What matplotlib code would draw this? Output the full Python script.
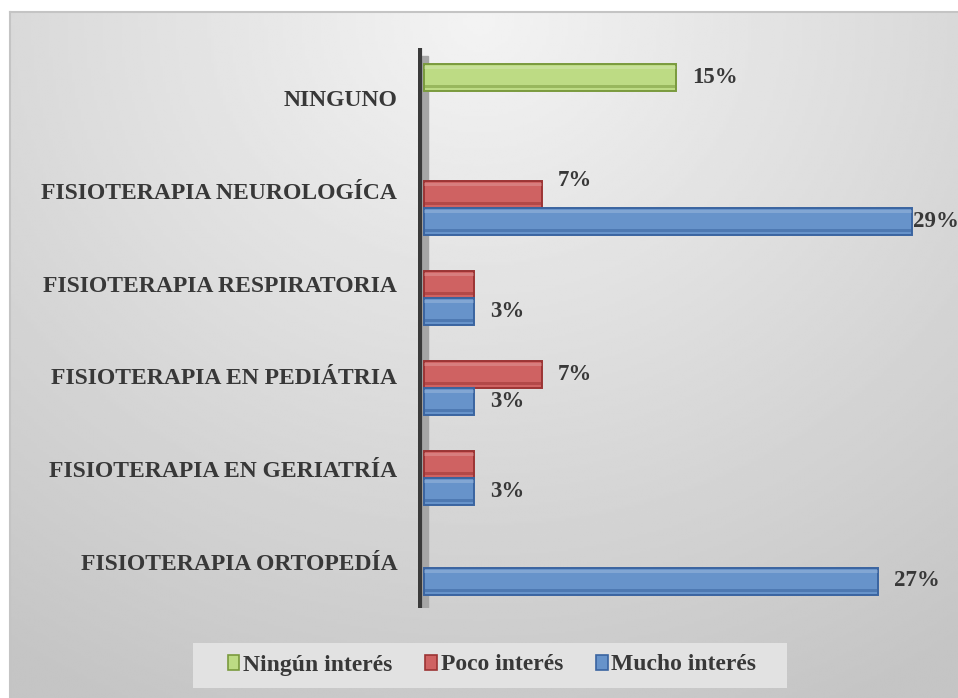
import numpy as np
import matplotlib
matplotlib.use("Agg")
from matplotlib import pyplot as plt
from matplotlib.patches import Patch, Rectangle

categorias = [
    "NINGUNO",
    "FISIOTERAPIA NEUROLOGÍCA",
    "FISIOTERAPIA RESPIRATORIA",
    "FISIOTERAPIA EN PEDIÁTRIA",
    "FISIOTERAPIA EN GERIATRÍA",
    "FISIOTERAPIA ORTOPEDÍA",
]
ningun_interes = [15, 0, 0, 0, 0, 0]
poco_interes = [0, 7, 3, 7, 3, 0]
mucho_interes = [0, 29, 3, 3, 3, 27]
series_nombres = ["Ningún interés", "Poco interés", "Mucho interés"]

colores = ["#bddb84", "#cf6262", "#6793ca"]
bordes = ["#7a9a3e", "#9c3434", "#3a64a0"]
texto = "#383838"
fuente = "Liberation Serif"

W, H = 958, 698
fig = plt.figure(figsize=(W / 100, H / 100), dpi=100)

# fondo con degradado radial
bg = fig.add_axes([10 / W, 0, (W - 10) / W, (H - 12) / H], zorder=-10)
xx, yy = np.meshgrid(np.linspace(10, W, 300), np.linspace(12, H, 300))
r = np.sqrt(((xx - 480) / 800) ** 2 + ((yy - 20) / 720) ** 2)
val = (243 - 44 * np.clip(r, 0, 1.05)) / 255
bg.imshow(val, cmap="gray", vmin=0, vmax=1, aspect="auto",
          extent=[0, 1, 0, 1], interpolation="bilinear")
bg.set_xlim(0, 1)
bg.set_ylim(0, 1)
bg.axis("off")
fig.add_artist(plt.Line2D([10 / W, 1], [1 - 12 / H, 1 - 12 / H], color="#c4c4c4", lw=1.5))
fig.add_artist(plt.Line2D([10 / W, 10 / W], [0, 1 - 12 / H], color="#c4c4c4", lw=1.5))

px = 16.83  # pixeles por punto porcentual
sep = 90.0  # pixeles entre categorias
ax = fig.add_axes([418 / W, 1 - 608 / H, (W - 418) / W, (608 - 48) / H])
ax.set_facecolor("none")
ax.set_xlim(-6 / px, (W - 424) / px)
ax.set_ylim((608 - 104) / sep, (48 - 104) / sep)

# pared del eje
ax.axvspan(-6 / px, 4 / px, ymin=0, ymax=0.985, color="#a6a6a6", zorder=1)
ax.axvline(-4.5 / px, color="#3a3a3a", lw=3, zorder=2)

h = 27 / sep
y = np.arange(len(categorias))
datos = [ningun_interes, poco_interes, mucho_interes]
desplaz = [-h, 0, h]
for serie, d, c, b in zip(datos, desplaz, colores, bordes):
    for yi, v in zip(y, serie):
        if v == 0:
            continue
        ax.barh(yi + d, v, height=h, color=c, edgecolor=b, lw=1.4, zorder=3)
        ax.barh(yi + d + h * 0.36, v, height=h * 0.12, color=b, alpha=0.55,
                lw=0, zorder=4)
        ax.barh(yi + d - h * 0.34, v, height=h * 0.1, color="white", alpha=0.18,
                lw=0, zorder=4)

# etiquetas de valores
vmax = max(mucho_interes)
for k, (serie, d) in enumerate(zip(datos, desplaz)):
    for i, v in enumerate(serie):
        if v == 0:
            continue
        if k == 1 and poco_interes[i] == mucho_interes[i]:
            continue
        dx = 0.5 if v == vmax else 11.5
        dy = 10 if (k == 1 and mucho_interes[i] > v) else 0
        ax.annotate(f"{v}%", (v, y[i] + d), xytext=(dx, dy), textcoords="offset points",
                    ha="left", va="center", fontsize=16.5, fontweight="bold",
                    family=fuente, color=texto, zorder=5, annotation_clip=False)

# las etiquetas de categoria se abren un poco por la perspectiva 3D
ax.set_yticks(y * 1.031 - 0.067)
ax.set_yticklabels(categorias, fontsize=17, fontweight="bold", family=fuente, color=texto)
ax.tick_params(axis="y", length=0, pad=15)
ax.set_xticks([])
for s in ax.spines.values():
    s.set_visible(False)

# caja de la leyenda
fig.add_artist(Rectangle((193 / W, 1 - 688 / H), (787 - 193) / W, 45 / H,
                         transform=fig.transFigure, facecolor="#e2e2e2",
                         edgecolor="none", zorder=1))
handles = [Patch(facecolor=c, edgecolor=b, lw=1.2) for c, b in zip(colores, bordes)]
leg = fig.legend(handles, series_nombres, loc="center", ncol=3,
                 bbox_to_anchor=(492 / W, 1 - 665 / H), frameon=False,
                 prop={"family": fuente, "weight": "bold", "size": 17},
                 handlelength=0.5, handleheight=0.6, handletextpad=0.15,
                 columnspacing=1.4, borderpad=0.4, borderaxespad=0)
leg.set_zorder(2)
for t in leg.get_texts():
    t.set_color(texto)

fig.savefig("out.png", dpi=100)
